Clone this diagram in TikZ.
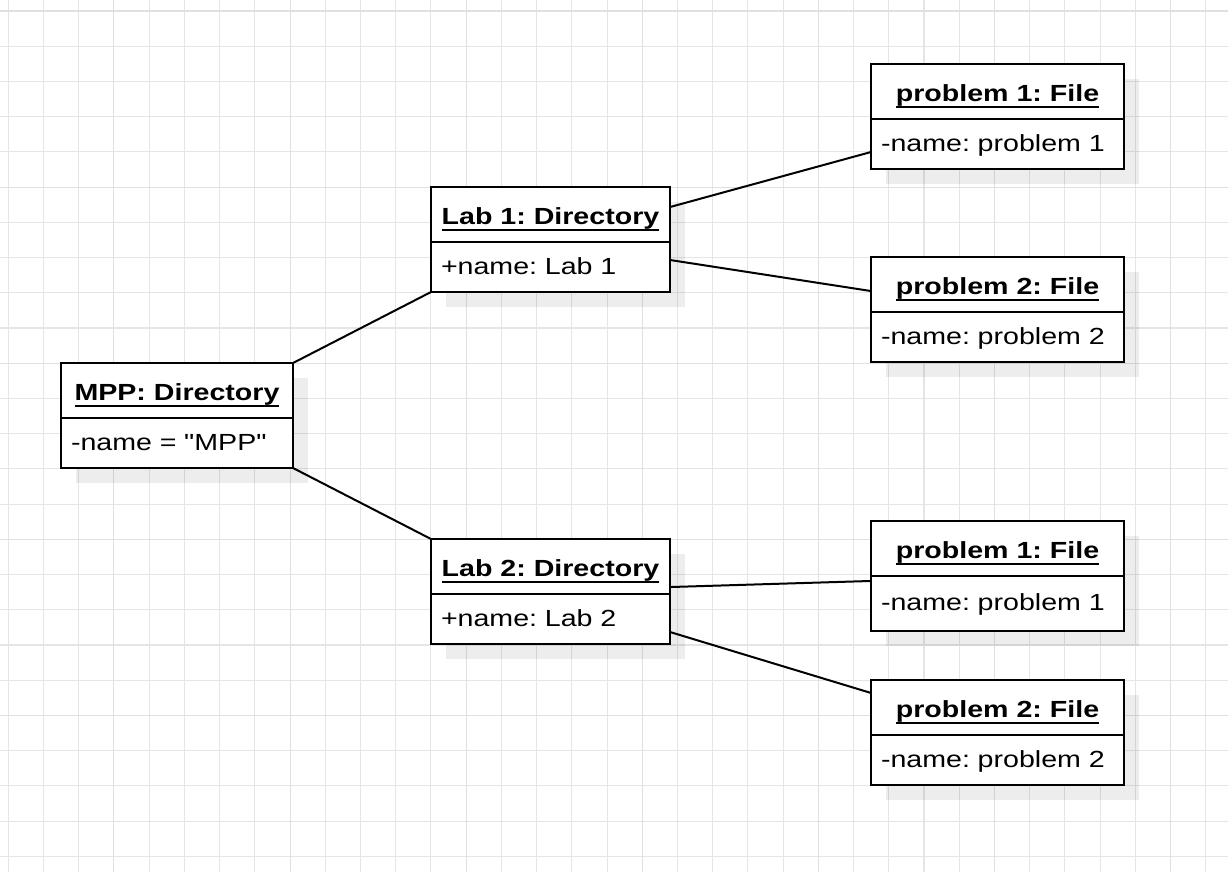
\documentclass[tikz,border=0pt]{standalone}
\usepackage{fontspec}
\setmainfont{Liberation Sans}[FakeStretch=1.225, Ligatures=TeXOff]
\usetikzlibrary{shadows}
\frenchspacing

\newcommand\ulname[1]{\setbox0=\hbox{#1}\rlap{\rule[-4.6pt]{\wd0}{1.5pt}}\box0}

\tikzset{
  gridline/.style={line width=0.8pt, black!10},
  gridmajor/.style={line width=0.8pt, black!12},
  objbox/.style={draw, line width=1.5pt, fill=white, outer sep=0pt,
    general shadow={fill=black, opacity=0.07, shadow xshift=11.5pt, shadow yshift=-11.5pt},
    text depth=0pt, anchor=north west},
  objhead/.style={objbox, inner sep=0pt, minimum width=#1*0.75pt, minimum height=41.25pt,
    text height=15.5pt, font=\fontsize{17.5}{21}\selectfont\bfseries},
  objattr/.style={objbox, inner xsep=7.5pt, inner ysep=0pt, minimum height=37.5pt,
    text height=11pt, text width=#1*0.75pt-15pt, align=left, font=\fontsize{17.5}{21}\selectfont},
  link/.style={line width=1.5pt, black}
}

\begin{document}
\begin{tikzpicture}[x=0.75pt, y=-0.75pt]
\useasboundingbox (0,0) rectangle (1228,872);
\fill[white] (0,0) rectangle (1228,872);

% grid
\foreach \k in {0,...,34}
  \draw[gridline] ({8.3+35.22*\k},0) -- ({8.3+35.22*\k},872);
\foreach \k in {0,...,24}
  \draw[gridline] (0,{11+35.22*\k}) -- (1228,{11+35.22*\k});
\foreach \k in {3,8,...,33}
  \draw[gridmajor] ({8.3+35.22*\k},0) -- ({8.3+35.22*\k},872);
\foreach \k in {0,5,...,20}
  \draw[gridmajor] (0,{11+35.22*\k}) -- (1228,{11+35.22*\k});

% objects
\node[objhead=232] (mpp) at (61,363) {\ulname{MPP: Directory}};
\node[objattr=232] (mppattr) at (mpp.south west) {-name = "MPP"};

\node[objhead=239] (lab1) at (431,187) {\ulname{Lab 1: Directory}};
\node[objattr=239] (lab1attr) at (lab1.south west) {+name: Lab 1};

\node[objhead=239] (lab2) at (431,539) {\ulname{Lab 2: Directory}};
\node[objattr=239] (lab2attr) at (lab2.south west) {+name: Lab 2};

\node[objhead=253] (prob1a) at (871,64) {\ulname{problem 1: File}};
\node[objattr=253] (prob1aattr) at (prob1a.south west) {-name: problem 1};

\node[objhead=253] (prob2a) at (871,257) {\ulname{problem 2: File}};
\node[objattr=253] (prob2aattr) at (prob2a.south west) {-name: problem 2};

\node[objhead=253] (prob1b) at (871,521) {\ulname{problem 1: File}};
\node[objattr=253, minimum height=41.25pt] (prob1battr) at (prob1b.south west) {-name: problem 1};

\node[objhead=253] (prob2b) at (871,680) {\ulname{problem 2: File}};
\node[objattr=253] (prob2battr) at (prob2b.south west) {-name: problem 2};

% links
\draw[link] (mpp.north east) -- (lab1attr.south west);
\draw[link] (mppattr.south east) -- (lab2.north west);
\draw[link] ([yshift=5.6pt]lab1.east) -- ([yshift=-6pt]prob1aattr.west);
\draw[link] ([yshift=5.25pt]lab1attr.east) -- ([yshift=-4.9pt]prob2a.west);
\draw[link] ([yshift=-15.4pt]lab2.east) -- ([yshift=16.9pt]prob1battr.west);
\draw[link] ([yshift=-9.75pt]lab2attr.east) -- ([yshift=10.9pt]prob2b.west);

\end{tikzpicture}
\end{document}
